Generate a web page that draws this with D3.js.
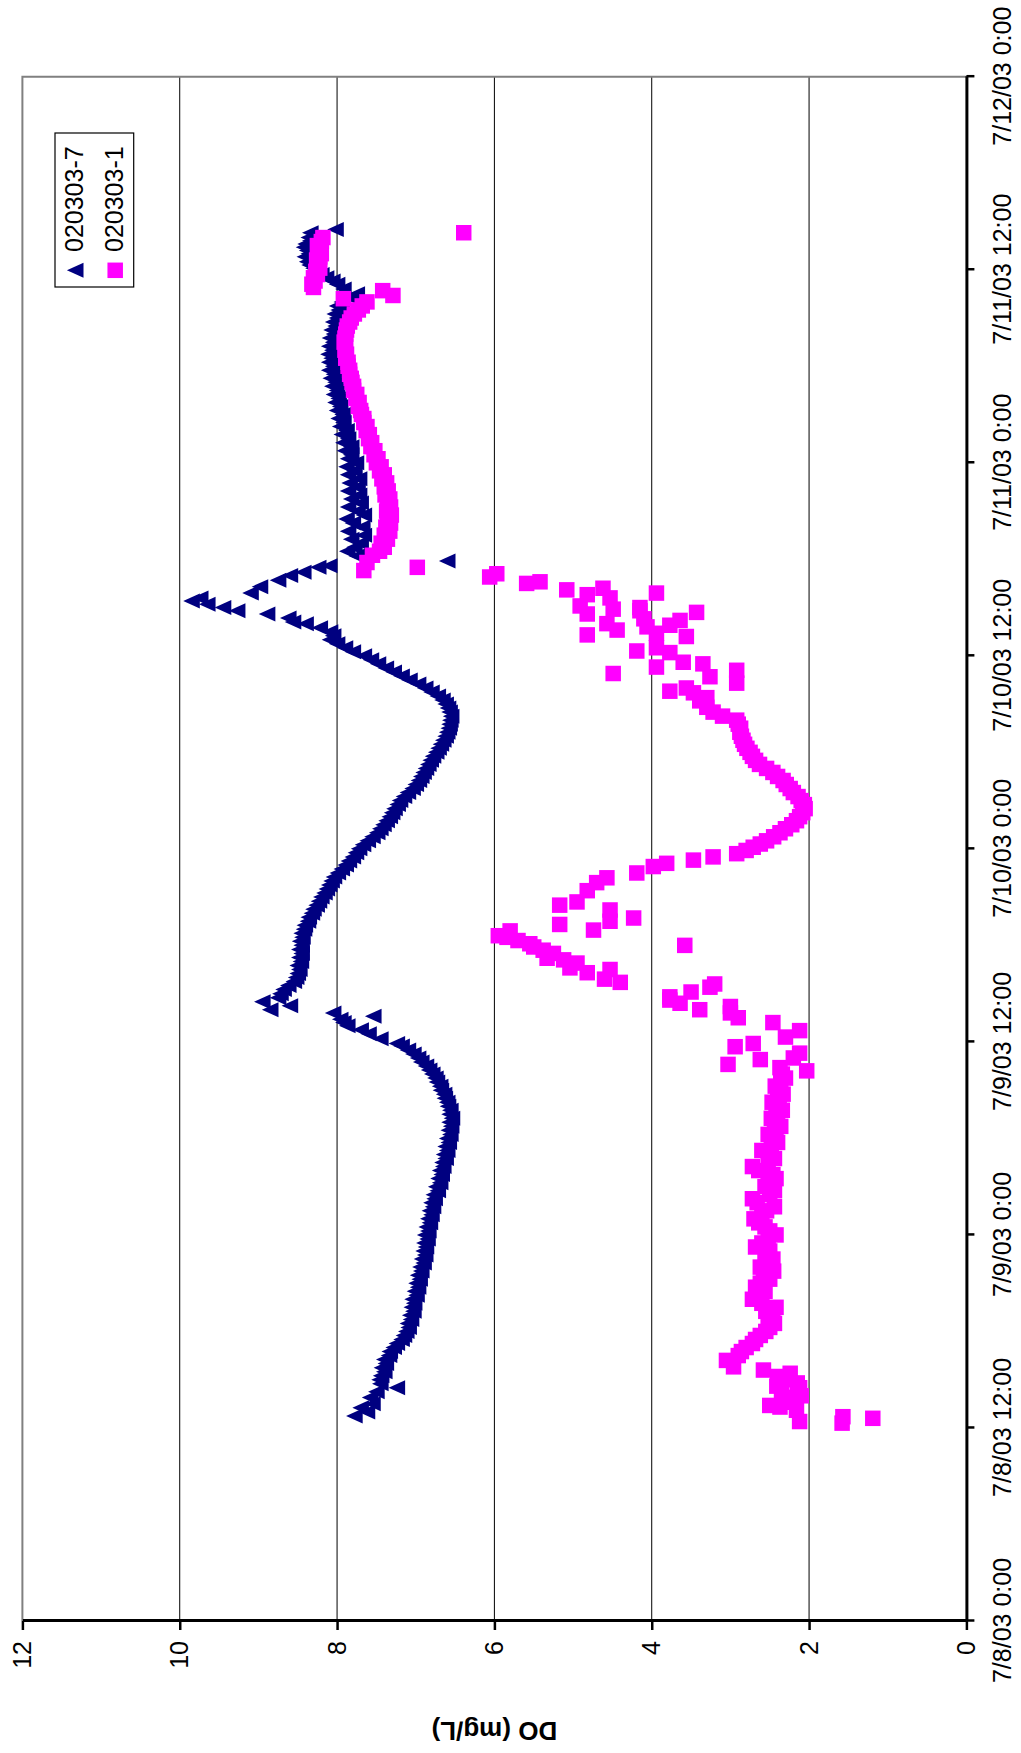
<!DOCTYPE html>
<html>
<head>
<meta charset="utf-8">
<script src="https://cdn.jsdelivr.net/npm/d3@7"></script>
<style>
  html, body { margin: 0; padding: 0; background: #fff; }
  svg { display: block; }
  text { font-family: "Liberation Sans", Arial, sans-serif; fill: #000; }
</style>
</head>
<body>
<svg id="chart" width="1021" height="1753"></svg>
<script>
// Series names and colours
const seriesNames = ["020303-7", "020303-1"];
const seriesColors = ["#000080", "#FF00FF"];

// DO axis ticks (mg/L) and time axis ticks (hours after 7/8/03 0:00)
const doTicks = [0, 2, 4, 6, 8, 10, 12];
const timeTickHours = [0, 12, 24, 36, 48, 60, 72, 84, 96];

// 020303-7 : [hours after 7/8/03 0:00, DO mg/L]
const blueSamples = [
  [12.75,7.78],[13.0,7.62],[13.25,7.70],[13.5,7.55],[13.9,7.58],[14.25,7.50],[14.5,7.24],[14.75,7.45],
  [15.0,7.46],[15.25,7.44],[15.5,7.40],[15.75,7.43],[16.0,7.38],[16.25,7.40],[16.5,7.34],[16.75,7.33],
  [17.0,7.28],[17.25,7.24],[17.5,7.18],[17.75,7.15],[18.0,7.12],[18.25,7.09],[18.5,7.10],[18.75,7.06],
  [19.0,7.07],[19.25,7.03],[19.5,7.05],[19.75,7.02],[20.0,7.04],[20.25,6.99],[20.5,7.01],[20.75,6.97],
  [21.0,6.99],[21.25,6.95],[21.5,6.97],[21.75,6.93],[22.0,6.94],[22.25,6.90],[22.5,6.92],[22.75,6.88],
  [23.0,6.90],[23.25,6.87],[23.5,6.89],[23.75,6.85],[24.0,6.88],[24.25,6.84],[24.5,6.86],[24.75,6.82],
  [25.0,6.84],[25.25,6.80],[25.5,6.82],[25.75,6.78],[26.0,6.80],[26.25,6.76],[26.5,6.77],[26.75,6.72],
  [27.0,6.74],[27.25,6.69],[27.5,6.71],[27.75,6.67],[28.0,6.69],[28.25,6.65],[28.5,6.66],[28.75,6.62],
  [29.0,6.64],[29.25,6.60],[29.5,6.62],[29.75,6.58],[30.0,6.60],[30.25,6.56],[30.5,6.58],[30.75,6.55],
  [31.0,6.57],[31.25,6.54],[31.5,6.57],[31.75,6.56],[32.0,6.59],[32.25,6.60],[32.5,6.63],[32.75,6.64],
  [33.0,6.68],[33.25,6.69],[33.5,6.73],[33.75,6.75],[34.0,6.79],[34.25,6.83],[34.5,6.87],[34.75,6.93],
  [35.0,6.97],[35.25,7.03],[35.5,7.10],[35.75,7.18],[35.9,7.24],[36.2,7.45],[36.5,7.60],[36.75,7.70],
  [37.0,7.87],[37.2,7.92],[37.4,7.96],[37.6,7.54],[37.8,8.05],[38.0,8.85],[38.25,8.60],[38.5,8.95],
  [38.75,8.75],[39.0,8.72],[39.25,8.68],[39.5,8.62],[39.75,8.55],[40.0,8.52],[40.25,8.50],[40.5,8.48],
  [40.75,8.50],[41.0,8.46],[41.25,8.48],[41.5,8.45],[41.75,8.48],[42.0,8.45],[42.25,8.47],[42.5,8.44],
  [42.75,8.45],[43.0,8.42],[43.25,8.41],[43.5,8.37],[43.75,8.36],[44.0,8.32],[44.25,8.30],[44.5,8.26],
  [44.75,8.23],[45.0,8.20],[45.25,8.16],[45.5,8.13],[45.75,8.10],[46.0,8.07],[46.25,8.04],[46.5,7.99],
  [46.75,7.94],[47.0,7.89],[47.25,7.85],[47.5,7.80],[47.75,7.76],[48.0,7.72],[48.25,7.67],[48.5,7.61],
  [48.75,7.55],[49.0,7.49],[49.25,7.45],[49.5,7.41],[49.75,7.37],[50.0,7.33],[50.25,7.30],[50.5,7.27],
  [50.75,7.23],[51.0,7.20],[51.25,7.15],[51.5,7.10],[51.75,7.04],[52.0,7.00],[52.25,6.96],[52.5,6.93],
  [52.75,6.90],[53.0,6.87],[53.25,6.84],[53.5,6.81],[53.75,6.78],[54.0,6.74],[54.25,6.71],[54.5,6.68],
  [54.75,6.65],[55.0,6.62],[55.25,6.60],[55.5,6.58],[55.75,6.57],[56.0,6.56],[56.25,6.55],[56.5,6.57],
  [56.75,6.59],[57.0,6.62],[57.25,6.66],[57.5,6.72],[57.75,6.80],[58.0,6.88],[58.25,6.97],[58.5,7.08],
  [58.75,7.18],[59.0,7.28],[59.25,7.38],[59.5,7.48],[59.75,7.57],[60.0,7.66],[60.25,7.80],[60.5,7.90],
  [60.75,8.00],[61.0,8.09],[61.25,8.05],[61.5,8.09],[61.75,8.22],[62.0,8.40],[62.1,8.56],[62.35,8.62],
  [62.6,8.89],[62.8,9.27],[63.0,9.45],[63.2,9.65],[63.4,9.85],[63.6,9.74],[63.9,9.10],[64.3,8.98],
  [64.7,8.75],[65.0,8.60],[65.2,8.43],[65.5,8.24],[65.6,8.10],[65.9,6.60],[66.2,7.75],[66.5,7.87],
  [66.75,7.78],[67.0,7.70],[67.25,7.82],[67.5,7.66],[67.75,7.86],[68.0,7.68],[68.25,7.80],[68.5,7.88],
  [68.75,7.66],[69.0,7.74],[69.25,7.86],[69.5,7.70],[69.75,7.82],[70.0,7.72],[70.25,7.86],[70.5,7.74],
  [70.75,7.84],[71.0,7.72],[71.25,7.86],[71.5,7.78],[71.75,7.88],[72.0,7.76],[72.25,7.86],[72.5,7.82],
  [72.75,7.90],[73.0,7.82],[73.25,7.92],[73.5,7.86],[73.75,7.94],[74.0,7.88],[74.25,7.96],[74.5,7.92],
  [74.75,7.98],[75.0,7.93],[75.25,8.00],[75.5,7.96],[75.75,8.02],[76.0,7.98],[76.25,8.04],[76.5,8.00],
  [76.75,8.06],[77.0,8.02],[77.25,8.08],[77.5,8.04],[77.75,8.10],[78.0,8.05],[78.25,8.10],[78.5,8.07],
  [78.75,8.11],[79.0,8.06],[79.25,8.10],[79.5,8.05],[79.75,8.09],[80.0,8.04],[80.25,8.07],[80.5,8.02],
  [80.75,8.05],[81.0,8.00],[81.25,8.03],[81.5,7.98],[81.75,8.00],[82.0,7.94],[82.25,7.82],[82.5,7.75],
  [82.8,7.92],[83.1,8.00],[83.3,8.06],[83.5,8.14],[83.7,8.20],[83.9,8.26],[84.1,8.30],[84.3,8.35],
  [84.5,8.38],[84.8,8.41],[85.0,8.36],[85.2,8.38],[85.4,8.42],[85.6,8.40],[85.8,8.34],[86.0,8.36],
  [86.3,8.34],[86.5,8.02]
];

// 020303-1 : [hours after 7/8/03 0:00, DO mg/L]
const pinkSamples = [
  [12.3,1.58],[12.4,2.12],[12.6,1.19],[12.7,1.57],[13.1,2.16],[13.3,2.37],[13.4,2.50],[13.6,2.30],
  [13.9,2.24],[14.0,2.10],[14.2,2.35],[14.5,2.12],[14.6,2.41],[14.8,2.15],[15.0,2.28],[15.2,2.40],
  [15.4,2.24],[15.6,2.58],[15.8,2.96],[16.2,3.05],[16.5,2.90],[16.75,2.86],[17.0,2.80],[17.25,2.72],
  [17.5,2.68],[17.75,2.62],[18.0,2.55],[18.25,2.50],[18.5,2.44],[18.75,2.52],[19.0,2.46],[19.25,2.55],
  [19.5,2.42],[19.75,2.60],[20.0,2.72],[20.25,2.64],[20.5,2.56],[20.75,2.68],[21.0,2.62],[21.25,2.50],
  [21.5,2.58],[21.75,2.45],[22.0,2.62],[22.25,2.52],[22.5,2.46],[22.75,2.56],[23.0,2.50],[23.25,2.68],
  [23.5,2.60],[23.75,2.52],[24.0,2.42],[24.25,2.50],[24.5,2.56],[24.75,2.64],[25.0,2.70],[25.25,2.60],
  [25.5,2.54],[25.75,2.44],[26.0,2.66],[26.25,2.72],[26.5,2.50],[26.75,2.44],[27.0,2.56],[27.25,2.52],
  [27.5,2.42],[27.75,2.46],[28.0,2.64],[28.25,2.72],[28.5,2.52],[28.75,2.44],[29.0,2.50],[29.25,2.60],
  [29.5,2.48],[29.75,2.40],[30.0,2.46],[30.25,2.52],[30.5,2.42],[30.75,2.36],[31.0,2.44],[31.25,2.48],
  [31.5,2.40],[31.75,2.34],[32.0,2.42],[32.25,2.47],[32.5,2.38],[32.75,2.33],[33.0,2.40],[33.25,2.43],
  [33.5,2.36],[33.75,2.30],[34.0,2.34],[34.2,2.03],[34.4,2.37],[34.6,3.03],[34.9,2.62],[35.0,2.20],
  [35.3,2.12],[35.7,2.94],[35.9,2.71],[36.3,2.30],[36.7,2.12],[37.2,2.46],[37.5,2.90],[37.8,3.00],
  [38.0,3.39],[38.2,3.00],[38.4,3.64],[38.6,3.77],[38.8,3.77],[39.1,3.50],[39.4,3.26],[39.6,3.20],
  [39.7,4.40],[39.9,4.60],[40.3,4.82],[40.5,4.53],[40.6,5.04],[40.9,4.95],[41.1,5.12],[41.2,5.33],
  [41.5,5.25],[41.7,5.38],[41.9,5.50],[42.0,3.58],[42.1,5.55],[42.3,5.70],[42.5,5.84],[42.6,5.95],
  [42.9,5.80],[42.95,4.74],[43.3,5.17],[43.5,4.53],[43.7,4.23],[44.2,4.53],[44.5,5.17],[44.7,4.95],
  [45.4,4.82],[45.9,4.70],[46.2,4.57],[46.5,4.19],[46.9,3.98],[47.1,3.81],[47.3,3.47],[47.5,3.22],
  [47.7,2.92],[47.9,2.80],[48.1,2.71],[48.3,2.62],[48.5,2.54],[48.75,2.45],[49.0,2.37],[49.25,2.30],
  [49.5,2.22],[49.75,2.16],[50.0,2.12],[50.25,2.08],[50.5,2.05],[50.75,2.06],[51.0,2.10],[51.25,2.14],
  [51.5,2.20],[51.75,2.24],[52.0,2.29],[52.25,2.33],[52.5,2.40],[52.75,2.46],[53.0,2.54],[53.25,2.63],
  [53.5,2.68],[53.75,2.72],[54.0,2.75],[54.25,2.79],[54.5,2.82],[54.75,2.84],[55.0,2.86],[55.25,2.88],
  [55.5,2.87],[55.75,2.90],[56.0,2.92],[56.25,3.10],[56.5,3.22],[56.8,3.30],[57.2,3.39],[57.4,3.30],
  [57.7,3.47],[57.8,3.77],[58.0,3.56],[58.3,2.92],[58.7,3.26],[58.9,4.49],[59.1,2.92],[59.3,3.94],
  [59.5,3.35],[59.6,3.60],[60.2,3.77],[60.3,4.19],[60.5,3.94],[61.2,3.56],[61.3,4.82],[61.4,3.94],
  [61.6,4.44],[61.8,4.06],[61.9,3.77],[62.0,4.57],[62.2,3.64],[62.3,4.10],[62.6,4.82],[62.7,3.43],
  [62.8,4.15],[62.9,4.49],[63.0,4.15],[63.1,4.91],[63.6,4.53],[63.8,4.82],[63.9,3.94],[64.1,5.08],
  [64.2,4.62],[64.5,5.59],[64.6,5.42],[64.9,6.06],[65.1,5.97],[65.3,7.66],[65.5,6.98],[65.8,7.62],
  [66.25,7.55],[66.5,7.46],[66.75,7.40],[67.0,7.44],[67.25,7.36],[67.5,7.40],[67.75,7.33],[68.0,7.38],
  [68.25,7.32],[68.5,7.36],[68.75,7.31],[69.0,7.37],[69.25,7.32],[69.5,7.36],[69.75,7.33],[70.0,7.39],
  [70.25,7.35],[70.5,7.40],[70.75,7.37],[71.0,7.43],[71.25,7.40],[71.5,7.46],[71.75,7.44],[72.0,7.50],
  [72.25,7.48],[72.5,7.53],[72.75,7.52],[73.0,7.57],[73.25,7.56],[73.5,7.60],[73.75,7.59],[74.0,7.63],
  [74.25,7.62],[74.5,7.66],[74.75,7.66],[75.0,7.69],[75.25,7.70],[75.5,7.73],[75.75,7.72],[76.0,7.76],
  [76.25,7.75],[76.5,7.79],[76.75,7.79],[77.0,7.81],[77.25,7.82],[77.5,7.84],[77.75,7.84],[78.0,7.86],
  [78.25,7.86],[78.5,7.89],[78.75,7.88],[79.0,7.90],[79.25,7.89],[79.5,7.91],[79.75,7.90],[80.0,7.89],
  [80.25,7.88],[80.5,7.87],[80.75,7.84],[81.0,7.82],[81.25,7.78],[81.5,7.73],[81.75,7.68],[82.0,7.62],
  [82.2,7.92],[82.4,7.29],[82.7,7.42],[82.9,8.30],[83.1,8.32],[83.3,8.28],[83.5,8.30],[83.7,8.25],
  [83.9,8.27],[84.1,8.22],[84.35,8.25],[84.6,8.26],[84.8,8.22],[85.0,8.20],[85.25,8.23],[85.5,8.25],
  [85.75,8.20],[86.0,8.18],[86.3,6.39]
];

// ---- layout (page pixels) ----
const plotLeft = 22.4, plotRight = 966.4, plotTop = 76.7, plotBottom = 1621;
// The chart is drawn in its own frame (time across, DO up) and turned a quarter
// turn counter-clockwise onto the page.
const W = plotBottom - plotTop;   // length of the time axis
const H = plotRight - plotLeft;   // length of the DO axis

const t0 = new Date(2003, 6, 8, 0, 0);
const t1 = new Date(2003, 6, 12, 0, 0);
const toDate = h => new Date(t0.getTime() + h * 3600000);

const x = d3.scaleTime().domain([t0, t1]).range([0, W]);
const y = d3.scaleLinear().domain([0, 12]).range([H, 0]);

const svg = d3.select("#chart");
svg.append("rect").attr("width", 1021).attr("height", 1753).attr("fill", "#fff");

const g = svg.append("g")
  .attr("transform", `translate(${plotLeft},${plotBottom}) rotate(-90)`);

// horizontal gridlines at each major DO tick
g.append("g")
  .selectAll("line")
  .data(doTicks.filter(d => d > 0 && d < 12))
  .join("line")
  .attr("x1", 0).attr("x2", W)
  .attr("y1", d => y(d)).attr("y2", d => y(d))
  .attr("stroke", "#000").attr("stroke-width", 1);

// plot area frame (top and right edges)
g.append("path")
  .attr("d", `M0,${y(12)}H${W}V${H}`)
  .attr("fill", "none").attr("stroke", "#808080").attr("stroke-width", 2);

// data series
const triPath = "M0,-8.3L7.5,8.3L-7.5,8.3Z";
const squarePath = d3.symbol(d3.symbolSquare, 15.5 * 15.5)();

const toPoint = ([h, v]) => ({ t: toDate(h), v });
const blueData = blueSamples.map(toPoint);
const pinkData = pinkSamples.map(toPoint);

g.append("g").selectAll("path")
  .data(blueData).join("path")
  .attr("d", triPath)
  .attr("transform", d => `translate(${x(d.t)},${y(d.v)})`)
  .attr("fill", seriesColors[0]);

g.append("g").selectAll("path")
  .data(pinkData).join("path")
  .attr("d", squarePath)
  .attr("transform", d => `translate(${x(d.t)},${y(d.v)})`)
  .attr("fill", seriesColors[1]);

// time axis
const fmt = d3.timeFormat("%-m/%-d/%y %-H:%M");
const gx = g.append("g")
  .attr("transform", `translate(0,${H})`)
  .call(d3.axisBottom(x)
    .tickValues(timeTickHours.map(toDate))
    .tickFormat(fmt)
    .tickSizeInner(8).tickSizeOuter(0));
gx.attr("font-size", 25).attr("font-family", "Liberation Sans, Arial, sans-serif");
gx.select(".domain").attr("stroke", "#000").attr("stroke-width", 3);
gx.selectAll(".tick line").attr("stroke", "#000").attr("stroke-width", 2.5);
gx.selectAll(".tick text").attr("y", 45).attr("dy", null).attr("fill", "#000");

// DO axis
const gy = g.append("g")
  .call(d3.axisLeft(y)
    .tickValues(doTicks)
    .tickSizeInner(9).tickSizeOuter(0).tickPadding(11));
gy.attr("font-size", 25).attr("font-family", "Liberation Sans, Arial, sans-serif");
gy.select(".domain").attr("stroke", "#000").attr("stroke-width", 3);
gy.selectAll(".tick line").attr("stroke", "#000").attr("stroke-width", 2.5);
gy.selectAll(".tick text").attr("fill", "#000");

// DO axis title
g.append("text")
  .attr("transform", `translate(-101,${H / 2}) rotate(-90)`)
  .attr("text-anchor", "middle")
  .attr("font-size", 26)
  .attr("font-weight", "bold")
  .text("DO (mg/L)");

// legend
const legend = g.append("g").attr("transform", "translate(1334,32.6)");
legend.append("rect")
  .attr("width", 154).attr("height", 78.7)
  .attr("fill", "#fff").attr("stroke", "#000").attr("stroke-width", 1.2);
const rows = legend.selectAll("g.row")
  .data(seriesNames).join("g")
  .attr("class", "row")
  .attr("transform", (d, i) => `translate(0,${i * 40})`);
rows.append("path")
  .attr("d", (d, i) => i === 0 ? triPath : squarePath)
  .attr("transform", "translate(16.7,20.2)")
  .attr("fill", (d, i) => seriesColors[i]);
rows.append("text")
  .attr("x", 35).attr("y", 28)
  .attr("font-size", 25)
  .text(d => d);
</script>
</body>
</html>
